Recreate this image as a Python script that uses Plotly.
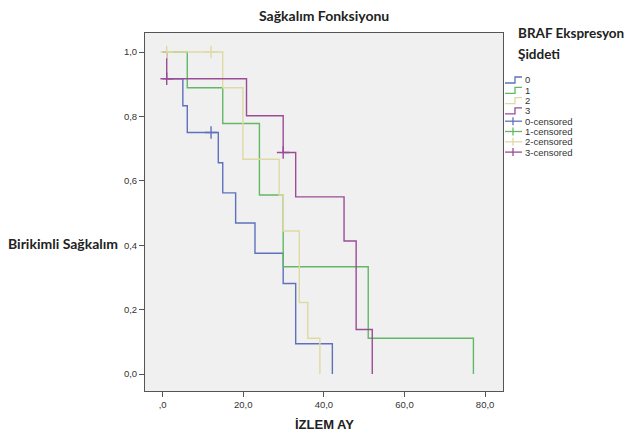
import plotly.graph_objects as go

# ---- data (Kaplan-Meier step points) ----
groups = ["0", "1", "2", "3"]
g0_time = [0, 5.0, 6.1, 13.8, 14.9, 18.1, 22.9, 29.9, 33.0, 42.1]
g0_surv = [0.917, 0.833, 0.750, 0.656, 0.5625, 0.469, 0.375, 0.281, 0.094, 0.0]
g1_time = [0, 6.1, 14.9, 24.0, 29.9, 51.0, 77.1]
g1_surv = [1.0, 0.889, 0.778, 0.556, 0.333, 0.111, 0.0]
g2_time = [0, 14.9, 19.9, 28.9, 29.9, 33.9, 36.0, 39.0]
g2_surv = [1.0, 0.889, 0.667, 0.556, 0.444, 0.222, 0.111, 0.0]
g3_time = [0, 1.0, 20.8, 29.9, 33.0, 45.0, 48.0, 52.0]
g3_surv = [1.0, 0.917, 0.802, 0.688, 0.550, 0.413, 0.138, 0.0]

# censored observations
c0_time, c0_surv = [12.0], [0.750]
c1_time, c1_surv = [], []
c2_time, c2_surv = [1.0, 12.0], [1.0, 1.0]
c3_time, c3_surv = [1.0, 29.9], [0.917, 0.688]

x_ticks = [0, 20, 40, 60, 80]
x_tick_labels = [",0", "20,0", "40,0", "60,0", "80,0"]
y_ticks = [0, 0.2, 0.4, 0.6, 0.8, 1.0]
y_tick_labels = ["0,0", "0,2", "0,4", "0,6", "0,8", "1,0"]

colors = ["#5F71BC", "#62B864", "#DEDAA4", "#9A4C95"]

series = [(g0_time, g0_surv), (g1_time, g1_surv), (g2_time, g2_surv), (g3_time, g3_surv)]
censored = [(c0_time, c0_surv), (c1_time, c1_surv), (c2_time, c2_surv), (c3_time, c3_surv)]

fig = go.Figure()
for name, (t, s), col in zip(groups, series, colors):
    fig.add_trace(go.Scatter(x=t, y=s, mode="lines", line=dict(color=col, width=1.4, shape="hv"),
                             name=name, showlegend=False, hoverinfo="skip"))
for name, (t, s), col in zip(groups, censored, colors):
    fig.add_trace(go.Scatter(x=t, y=s, mode="markers",
                             marker=dict(symbol="cross-thin", size=9, line=dict(color=col, width=1.4)),
                             name=name + "-censored", showlegend=False, hoverinfo="skip"))

# plot area in pixels: x 145..503, y 33..391
L, R, T, B = 145, 503, 33, 391
W, H = 626, 433
def px(x):
    return (x - L) / (R - L)
def py(y):
    return (B - y) / (B - T)

shapes = []
annotations = []
# manual legend (SPSS style)
row0, gap = 80, 10.3
labels = groups + [g + "-censored" for g in groups]
for i, lab in enumerate(labels):
    y = row0 + gap * i
    col = colors[i % 4]
    if i < 4:
        path = "M {:.4f},{:.4f} L {:.4f},{:.4f} L {:.4f},{:.4f} L {:.4f},{:.4f}".format(
            px(505), py(y + 3), px(515), py(y + 3), px(515), py(y - 3), px(522), py(y - 3))
        shapes.append(dict(type="path", path=path, xref="paper", yref="paper",
                           line=dict(color=col, width=1.3)))
    else:
        shapes.append(dict(type="line", x0=px(505), x1=px(522), y0=py(y), y1=py(y),
                           xref="paper", yref="paper", line=dict(color=col, width=1.3)))
        shapes.append(dict(type="line", x0=px(513), x1=px(513), y0=py(y - 4), y1=py(y + 4),
                           xref="paper", yref="paper", line=dict(color=col, width=1.3)))
    annotations.append(dict(text=lab, x=px(523), y=py(y), xref="paper", yref="paper",
                            xanchor="left", yanchor="middle", showarrow=False,
                            font=dict(family="Liberation Sans, Arial", size=9.5, color="#333333")))

title_font = dict(family="Lato", size=14, color="#222222")
legend_title_font = dict(family="Lato", size=13.5, color="#222222")
annotations.append(dict(text="<b>BRAF Ekspresyon</b>", x=px(516), y=py(33),
                        xref="paper", yref="paper", xanchor="left", yanchor="middle",
                        showarrow=False, font=legend_title_font))
annotations.append(dict(text="<b>Şiddeti</b>", x=px(516), y=py(54),
                        xref="paper", yref="paper", xanchor="left", yanchor="middle",
                        showarrow=False, font=legend_title_font))
annotations.append(dict(text="<b>Sağkalım Fonksiyonu</b>", x=px(324), y=py(15),
                        xref="paper", yref="paper", xanchor="center", yanchor="middle",
                        showarrow=False, font=title_font))
annotations.append(dict(text="<b>Birikimli Sağkalım</b>", x=px(6), y=py(243),
                        xref="paper", yref="paper", xanchor="left", yanchor="middle",
                        showarrow=False, font=title_font))
annotations.append(dict(text="<b>İZLEM AY</b>", x=px(324), y=py(424),
                        xref="paper", yref="paper", xanchor="center", yanchor="middle",
                        showarrow=False, font=dict(family="Liberation Sans, Arial", size=13, color="#222222")))

fig.update_layout(
    width=W, height=H,
    margin=dict(l=L, r=W - R, t=T, b=H - B, pad=0),
    paper_bgcolor="white", plot_bgcolor="#F0F0F0",
    showlegend=False,
    shapes=shapes, annotations=annotations,
    xaxis=dict(range=[-4.39, 84.44], tickvals=x_ticks, ticktext=x_tick_labels,
               ticks="outside", ticklen=5, tickcolor="#555555", showgrid=False, zeroline=False,
               showline=True, mirror=True, linecolor="#555555", linewidth=1,
               tickfont=dict(family="Liberation Sans, Arial", size=9.5, color="#333333")),
    yaxis=dict(range=[-0.0528, 1.059], tickvals=y_ticks, ticktext=y_tick_labels,
               ticks="outside", ticklen=5, tickcolor="#555555", showgrid=False, zeroline=False,
               showline=True, mirror=True, linecolor="#555555", linewidth=1,
               tickfont=dict(family="Liberation Sans, Arial", size=9.5, color="#333333")),
)

fig.write_html("out.html", config={"displayModeBar": False},
               post_script="document.body.style.margin='0';document.body.style.padding='0';")
